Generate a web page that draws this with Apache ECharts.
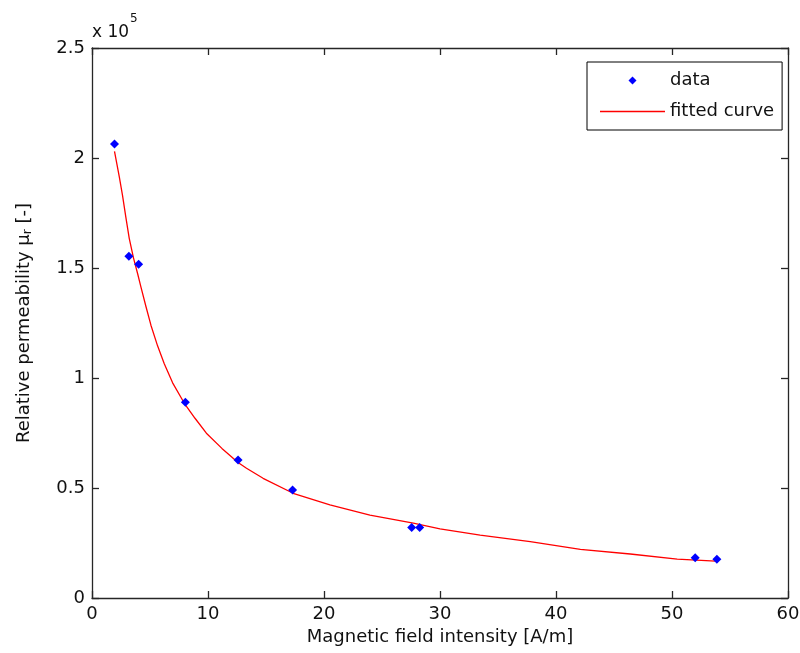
<!doctype html>
<html lang="en">
  <head>
    <meta charset="UTF-8" />
    <title>Relative permeability</title>
    <script src="https://cdn.jsdelivr.net/npm/echarts@6/dist/echarts.min.js"></script>
    <style>
      html, body { margin: 0; padding: 0; background: #fff; }
      #chart { width: 800px; height: 653px; }
    </style>
  </head>
  <body>
    <div id="chart"></div>
    <script>
      // measured points
      var dataX = [1.94, 3.18, 4.02, 8.05, 12.59, 17.29, 27.56, 28.25, 52.0, 53.87];
      var dataY = [206400, 155300, 151700, 89000, 62700, 49100, 32100, 32100, 18300, 17600];

      // fitted curve
      var fitX = [1.94, 2.35, 2.63, 2.92, 3.21, 3.58, 3.93, 4.21, 4.65, 5.08, 5.66, 6.23, 6.95, 7.96, 8.88, 9.86, 11.2, 12.59, 13.32, 14.75, 17.34, 20.51, 23.96, 27.7, 30.0, 33.46, 37.78, 42.1, 46.4, 50.45, 53.76];
      var fitY = [203000, 191500, 183000, 173000, 163500, 154500, 147500, 141500, 132500, 124000, 114500, 106500, 97800, 88500, 81700, 74900, 68000, 61600, 59000, 54400, 47600, 42300, 37700, 34000, 31400, 28600, 25600, 22100, 20000, 17700, 16800];

      var xTicks = [0, 10, 20, 30, 40, 50, 60];
      var yTicks = [0, 0.5, 1, 1.5, 2, 2.5];

      var axisColor = '#262626';
      var textColor = '#111';
      var font = 'DejaVu Sans';

      function pairs(xs, ys) {
        return xs.map(function (x, i) { return [x, ys[i]]; });
      }

      var chart = echarts.init(document.getElementById('chart'), null, { renderer: 'canvas' });

      var boxAxis = {
        axisLine: { show: true, onZero: false, lineStyle: { color: axisColor, width: 1.3 } },
        axisTick: { show: true, inside: true, length: 7, lineStyle: { color: axisColor, width: 1.3 } },
        splitLine: { show: false }
      };

      chart.setOption({
        animation: false,
        backgroundColor: '#fff',
        textStyle: { fontFamily: font },
        grid: { left: 92, right: 12, top: 48, bottom: 55, outerBoundsMode: 'none', containLabel: false },
        xAxis: [
          Object.assign({
            type: 'value', position: 'bottom',
            min: xTicks[0], max: xTicks[xTicks.length - 1], interval: 10,
            name: 'Magnetic field intensity [A/m]',
            nameLocation: 'middle', nameGap: 27,
            nameTextStyle: { fontSize: 18, color: textColor, fontFamily: font },
            axisLabel: { fontSize: 18, color: textColor, margin: 7, fontFamily: font }
          }, boxAxis),
          Object.assign({
            type: 'value', position: 'top',
            min: xTicks[0], max: xTicks[xTicks.length - 1], interval: 10,
            axisLabel: { show: false }
          }, boxAxis)
        ],
        yAxis: [
          Object.assign({
            type: 'value', position: 'left',
            min: yTicks[0] * 1e5, max: yTicks[yTicks.length - 1] * 1e5, interval: 50000,
            name: 'Relative permeability μ{s|r} [-]',
            nameLocation: 'middle', nameGap: 58,
            nameTextStyle: {
              fontSize: 18, color: textColor, fontFamily: font,
              rich: { s: { fontSize: 12, color: textColor, fontFamily: font, padding: [8, 0, 0, 0] } }
            },
            axisLabel: {
              fontSize: 18, color: textColor, margin: 7, fontFamily: font,
              formatter: function (v) { return String(v / 1e5); }
            }
          }, boxAxis),
          Object.assign({
            type: 'value', position: 'right',
            min: yTicks[0] * 1e5, max: yTicks[yTicks.length - 1] * 1e5, interval: 50000,
            axisLabel: { show: false }
          }, boxAxis)
        ],
        legend: {
          orient: 'vertical',
          left: 587, top: 62,
          padding: [8, 8, 8, 13],
          itemWidth: 65, itemHeight: 8, itemGap: 10,
          borderColor: '#000', borderWidth: 1, borderRadius: 0,
          backgroundColor: '#fff',
          textStyle: { fontSize: 18, color: textColor, fontFamily: font, lineHeight: 21 },
          data: [
            { name: 'data', icon: 'path://M0,-1L1,0L0,1L-1,0Z', itemStyle: { color: '#0000ff' } },
            { name: 'fitted curve', icon: 'path://M0,0H65V1.3H0Z', itemStyle: { color: '#ff0000' } }
          ]
        },
        graphic: [
          { type: 'text', left: 92, top: 24, style: { text: 'x 10', font: '17px ' + font, fill: textColor } },
          { type: 'text', left: 130, top: 13, style: { text: '5', font: '12px ' + font, fill: textColor } }
        ],
        series: [
          {
            name: 'fitted curve', type: 'line',
            data: pairs(fitX, fitY),
            symbol: 'none', smooth: false,
            lineStyle: { color: '#ff0000', width: 1.3 },
            itemStyle: { color: '#ff0000' },
            z: 2
          },
          {
            name: 'data', type: 'scatter',
            data: pairs(dataX, dataY),
            symbol: 'diamond', symbolSize: 9,
            itemStyle: { color: '#0000ff', opacity: 1 },
            z: 3
          }
        ]
      });
    </script>
  </body>
</html>
